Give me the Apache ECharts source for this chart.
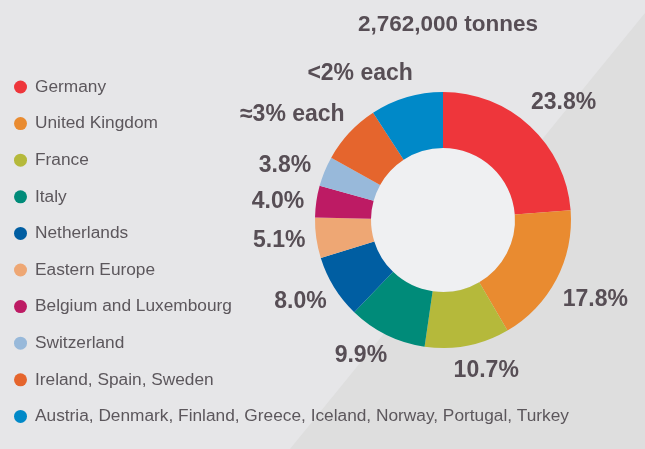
<!DOCTYPE html>
<html>
<head>
<meta charset="utf-8">
<script src="https://cdn.jsdelivr.net/npm/echarts@6/dist/echarts.min.js"></script>
<style>
html,body{margin:0;padding:0;background:#e6e6e8;}
#chart{width:645px;height:449px;}
</style>
</head>
<body>
<div id="chart"></div>
<script>
// ---- data ----
var titleText = '2,762,000 tonnes';
var categories = [
  'Germany',
  'United Kingdom',
  'France',
  'Italy',
  'Netherlands',
  'Eastern Europe',
  'Belgium and Luxembourg',
  'Switzerland',
  'Ireland, Spain, Sweden',
  'Austria, Denmark, Finland, Greece, Iceland, Norway, Portugal, Turkey'
];
var shares = [23.8, 17.8, 10.7, 9.9, 8.0, 5.1, 4.0, 3.8, 7.7, 9.2];
var labelTexts = ['23.8%', '17.8%', '10.7%', '9.9%', '8.0%', '5.1%', '4.0%', '3.8%', '\u22483% each', '<2% each'];

// ---- styles ----
var colors = ['#ee363b', '#e98b30', '#b5b93b', '#008b79', '#005ea2', '#eea774', '#bd1b64', '#98b9da', '#e5652d', '#0089c8'];
// label placement: [angle shift in degrees, distance from centre in px]
var labelPlacement = [[3,168],[0,172],[-5,157],[5,159],[2,164],[1,165],[-2,166],[-3.5,167],[-8,184],[-13,168]];
var cx = 443, cy = 220;

var total = shares.reduce(function(a,b){return a+b;},0);
var midAngles = [];
var acc = 0;
shares.forEach(function(v){ midAngles.push((acc + v/2)/total*360); acc += v; });

var chart = echarts.init(document.getElementById('chart'), null, {renderer:'canvas'});
var option = {
  backgroundColor: '#e6e6e8',
  animation: false,
  color: colors,
  graphic: [{
    type: 'polygon', z: -10, silent: true,
    shape: { points: [[645,13],[645,449],[290,449]] },
    style: { fill: '#dedede' }
  }],
  title: {
    text: titleText,
    left: cx, top: 8, textAlign: 'center',
    textStyle: { fontFamily: 'Liberation Sans', fontWeight: 'bold', fontSize: 22.5, color: '#574e55' }
  },
  legend: {
    orient: 'vertical',
    left: 14, top: 77,
    padding: 0,
    icon: 'circle',
    itemWidth: 13, itemHeight: 13,
    itemGap: 16.6,
    data: categories,
    textStyle: { fontFamily: 'Liberation Sans', fontSize: 17.3, color: '#5c575c', lineHeight: 20, padding: [0,0,0,3] },
    selectedMode: false
  },
  series: [{
    type: 'pie',
    silent: true,
    center: [cx, cy],
    radius: [0, 72],
    z: 1,
    label: { show: false }, labelLine: { show: false },
    itemStyle: { color: '#eff0f2' },
    data: [{ value: 1, name: '__inner' }]
  }, {
    type: 'pie',
    center: [cx, cy],
    radius: [72, 128],
    startAngle: 90,
    clockwise: true,
    z: 2,
    itemStyle: { borderWidth: 0 },
    label: {
      show: true,
      position: 'inside',
      overflow: 'none',
      formatter: function(p){ return labelTexts[p.dataIndex]; },
      fontFamily: 'Liberation Sans', fontWeight: 'bold', fontSize: 23, color: '#574e55'
    },
    labelLine: { show: false },
    labelLayout: function(p){
      var i = p.dataIndex;
      var a = (midAngles[i] + labelPlacement[i][0]) * Math.PI / 180;
      var r = labelPlacement[i][1];
      return { x: cx + r*Math.sin(a), y: cy - r*Math.cos(a), align: 'center', verticalAlign: 'middle' };
    },
    data: categories.map(function(c,i){ return { name: c, value: shares[i] }; })
  }]
};
chart.setOption(option);
</script>
</body>
</html>
